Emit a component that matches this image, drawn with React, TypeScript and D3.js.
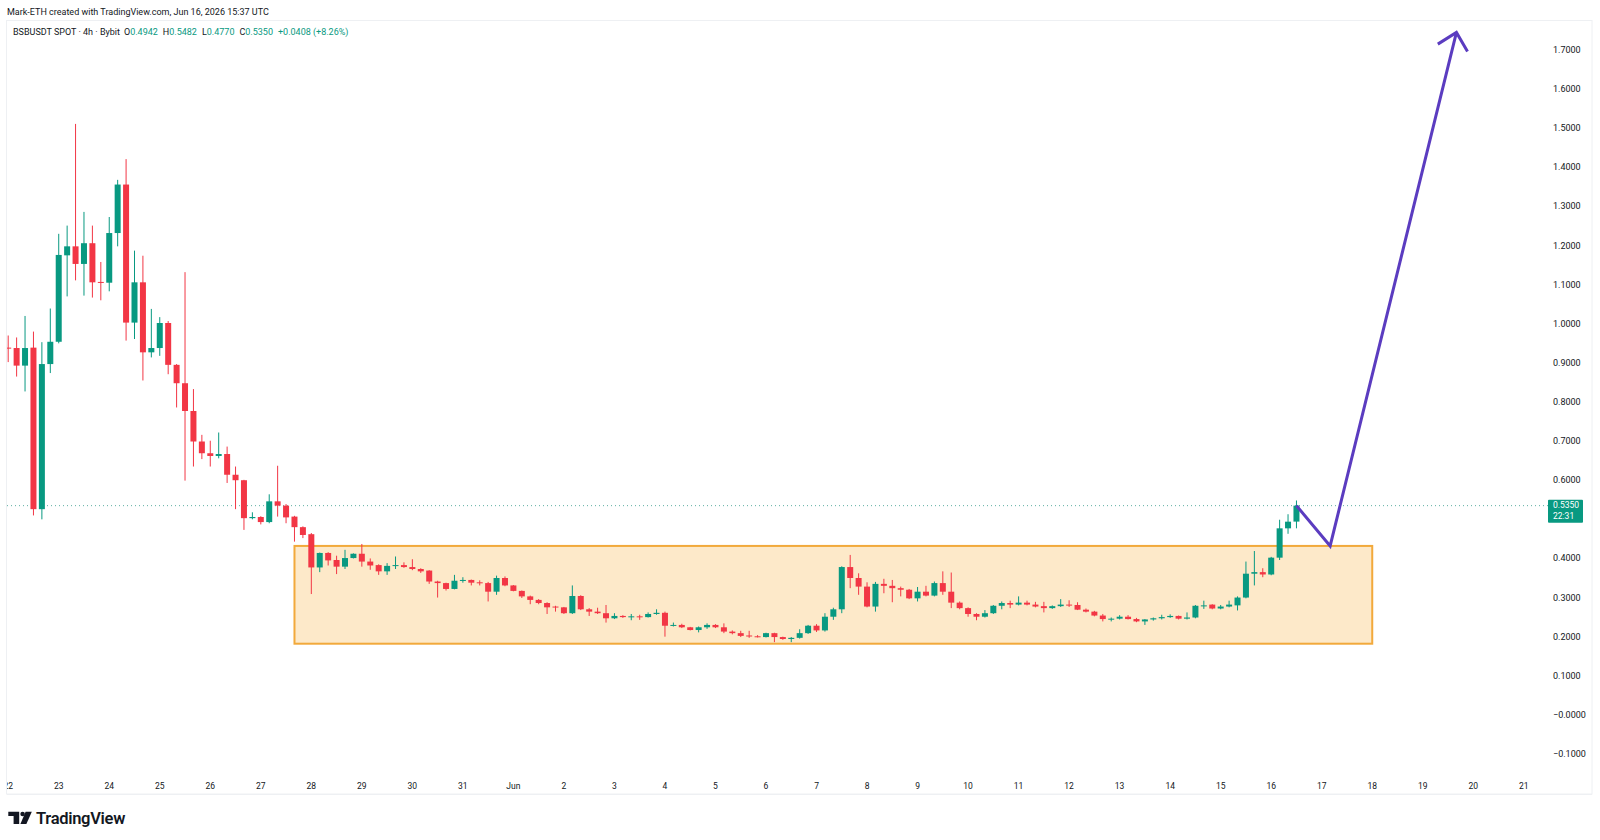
import React from "react";
import * as d3 from "d3";

// ---- data (4h candles, BSBUSDT, Bybit) ----
const firstBarTime = Date.UTC(2026, 4, 22, 0, 0); // May 22 00:00 UTC
const barHours = 4;

const opens = [
  0.939, 0.938, 0.893, 0.939, 0.526, 0.897, 0.954, 1.175, 1.198, 1.153,
  1.206, 1.107, 1.105, 1.232, 1.356, 1.003, 1.106, 0.927, 0.938, 1.002,
  0.895, 0.848, 0.777, 0.699, 0.669, 0.662, 0.667, 0.614, 0.600, 0.503,
  0.506, 0.493, 0.546, 0.535, 0.507, 0.480, 0.462, 0.377, 0.414, 0.396,
  0.379, 0.401, 0.412, 0.392, 0.383, 0.367, 0.381, 0.383, 0.378, 0.373,
  0.369, 0.341, 0.337, 0.322, 0.343, 0.345, 0.339, 0.337, 0.315, 0.350,
  0.331, 0.317, 0.303, 0.294, 0.286, 0.277, 0.275, 0.260, 0.304, 0.270,
  0.264, 0.260, 0.247, 0.253, 0.250, 0.252, 0.250, 0.258, 0.261, 0.228,
  0.230, 0.224, 0.217, 0.224, 0.230, 0.224, 0.213, 0.209, 0.203, 0.201,
  0.199, 0.209, 0.199, 0.194, 0.197, 0.209, 0.228, 0.216, 0.251, 0.270,
  0.378, 0.350, 0.328, 0.277, 0.335, 0.330, 0.324, 0.320, 0.298, 0.315,
  0.305, 0.337, 0.315, 0.287, 0.273, 0.258, 0.251, 0.260, 0.279, 0.286,
  0.282, 0.287, 0.282, 0.278, 0.273, 0.278, 0.282, 0.281, 0.269, 0.264,
  0.254, 0.245, 0.246, 0.251, 0.245, 0.239, 0.244, 0.247, 0.250, 0.253,
  0.246, 0.249, 0.279, 0.282, 0.272, 0.277, 0.280, 0.300, 0.361, 0.365,
  0.359, 0.402, 0.477, 0.4942,
];
const highs = [
  0.970, 0.965, 1.020, 0.980, 0.953, 1.039, 1.230, 1.251, 1.511, 1.286,
  1.251, 1.158, 1.273, 1.368, 1.421, 1.187, 1.174, 1.038, 1.017, 1.007,
  0.897, 1.132, 0.833, 0.716, 0.701, 0.722, 0.686, 0.635, 0.601, 0.518,
  0.508, 0.564, 0.637, 0.539, 0.509, 0.482, 0.465, 0.415, 0.416, 0.407,
  0.422, 0.413, 0.437, 0.400, 0.385, 0.388, 0.405, 0.390, 0.398, 0.375,
  0.370, 0.343, 0.338, 0.358, 0.352, 0.346, 0.344, 0.340, 0.356, 0.354,
  0.332, 0.318, 0.305, 0.296, 0.288, 0.279, 0.276, 0.331, 0.306, 0.273,
  0.274, 0.281, 0.260, 0.255, 0.258, 0.256, 0.262, 0.270, 0.264, 0.236,
  0.233, 0.225, 0.226, 0.234, 0.232, 0.234, 0.216, 0.215, 0.215, 0.204,
  0.210, 0.210, 0.200, 0.199, 0.219, 0.230, 0.232, 0.260, 0.274, 0.380,
  0.409, 0.362, 0.339, 0.340, 0.348, 0.345, 0.328, 0.322, 0.327, 0.330,
  0.341, 0.367, 0.364, 0.290, 0.275, 0.260, 0.268, 0.281, 0.290, 0.292,
  0.303, 0.292, 0.289, 0.289, 0.280, 0.296, 0.293, 0.288, 0.272, 0.266,
  0.258, 0.249, 0.255, 0.255, 0.248, 0.245, 0.249, 0.256, 0.257, 0.254,
  0.262, 0.281, 0.292, 0.283, 0.281, 0.292, 0.303, 0.392, 0.419, 0.375,
  0.404, 0.499, 0.513, 0.5482,
];
const lows = [
  0.902, 0.865, 0.827, 0.510, 0.500, 0.874, 0.950, 1.070, 1.111, 1.072,
  1.067, 1.060, 1.083, 1.198, 0.957, 0.961, 0.855, 0.914, 0.918, 0.871,
  0.786, 0.599, 0.635, 0.654, 0.635, 0.656, 0.593, 0.526, 0.473, 0.500,
  0.487, 0.490, 0.507, 0.490, 0.443, 0.452, 0.309, 0.365, 0.382, 0.360,
  0.373, 0.400, 0.379, 0.371, 0.358, 0.358, 0.373, 0.376, 0.370, 0.363,
  0.335, 0.300, 0.318, 0.321, 0.338, 0.331, 0.331, 0.290, 0.307, 0.329,
  0.316, 0.299, 0.283, 0.283, 0.258, 0.264, 0.258, 0.258, 0.268, 0.253,
  0.258, 0.236, 0.245, 0.248, 0.242, 0.243, 0.249, 0.256, 0.200, 0.226,
  0.222, 0.216, 0.211, 0.220, 0.222, 0.209, 0.206, 0.199, 0.197, 0.198,
  0.198, 0.186, 0.192, 0.186, 0.195, 0.207, 0.212, 0.213, 0.243, 0.260,
  0.324, 0.307, 0.275, 0.264, 0.311, 0.288, 0.303, 0.296, 0.290, 0.303,
  0.303, 0.307, 0.273, 0.270, 0.251, 0.242, 0.249, 0.258, 0.270, 0.273,
  0.280, 0.280, 0.275, 0.262, 0.271, 0.276, 0.276, 0.268, 0.262, 0.252,
  0.239, 0.239, 0.244, 0.244, 0.237, 0.230, 0.241, 0.244, 0.248, 0.244,
  0.244, 0.247, 0.271, 0.270, 0.270, 0.275, 0.267, 0.298, 0.331, 0.352,
  0.357, 0.396, 0.463, 0.4770,
];
const closes = [
  0.937, 0.893, 0.938, 0.526, 0.897, 0.954, 1.176, 1.198, 1.153, 1.206,
  1.106, 1.105, 1.232, 1.356, 1.003, 1.106, 0.927, 0.938, 1.002, 0.895,
  0.848, 0.777, 0.699, 0.669, 0.662, 0.667, 0.614, 0.600, 0.503, 0.506,
  0.493, 0.546, 0.535, 0.505, 0.480, 0.460, 0.377, 0.414, 0.395, 0.379,
  0.401, 0.412, 0.392, 0.382, 0.367, 0.381, 0.383, 0.378, 0.373, 0.367,
  0.341, 0.337, 0.322, 0.343, 0.345, 0.338, 0.337, 0.315, 0.350, 0.331,
  0.317, 0.303, 0.294, 0.286, 0.275, 0.275, 0.260, 0.304, 0.270, 0.264,
  0.260, 0.247, 0.253, 0.250, 0.252, 0.250, 0.258, 0.261, 0.228, 0.230,
  0.224, 0.217, 0.224, 0.230, 0.224, 0.213, 0.209, 0.202, 0.201, 0.200,
  0.209, 0.199, 0.194, 0.197, 0.209, 0.228, 0.216, 0.251, 0.270, 0.378,
  0.350, 0.328, 0.277, 0.335, 0.330, 0.324, 0.320, 0.298, 0.315, 0.305,
  0.337, 0.315, 0.287, 0.273, 0.258, 0.251, 0.260, 0.279, 0.286, 0.282,
  0.287, 0.282, 0.277, 0.273, 0.278, 0.282, 0.280, 0.269, 0.264, 0.254,
  0.245, 0.246, 0.251, 0.245, 0.239, 0.244, 0.247, 0.250, 0.253, 0.246,
  0.249, 0.279, 0.280, 0.272, 0.277, 0.282, 0.300, 0.361, 0.365, 0.359,
  0.402, 0.477, 0.494, 0.5350,
];

const priceTicks = d3.range(-1, 18).map((k) => k / 10);
const dayLabels = [
  "22", "23", "24", "25", "26", "27", "28", "29", "30", "31", "Jun",
  "2", "3", "4", "5", "6", "7", "8", "9", "10", "11", "12", "13", "14",
  "15", "16", "17", "18", "19", "20", "21",
];

// consolidation zone (bar index start, end date, prices)
const zoneStartBar = 34;
const zoneEnd = Date.UTC(2026, 5, 18, 0, 0);
const zoneTop = 0.432;
const zoneBottom = 0.182;

// projected path (bar indexes and prices)
const projBars = [153, 157, 172];
const projPrices = [0.535, 0.432, 1.745];

const countdown = "22:31";

const UP = "#089981";
const DOWN = "#F23645";
const TXT = "#131722";
const FONT = "Roboto, 'Liberation Sans', sans-serif";

const barDate = (i: number) => new Date(firstBarTime + i * barHours * 3600e3);

export default function App() {
  const x = d3
    .scaleUtc()
    .domain([new Date(Date.UTC(2026, 4, 22)), new Date(Date.UTC(2026, 5, 21))])
    .range([8.2, 1523.8]);
  const y = d3.scaleLinear().domain([-0.1, 1.7]).range([754, 50]);

  const dayTicks = d3.utcDay.range(
    new Date(Date.UTC(2026, 4, 22)),
    new Date(Date.UTC(2026, 5, 22))
  );

  const bodyW = 6;
  const last = closes.length - 1;
  const lastClose = closes[last];
  const chg = closes[last] - opens[last];
  const pct = (chg / opens[last]) * 100;
  const fmt4 = d3.format(".4f");
  const fmtTick = (v: number) => {
    const s = fmt4(Math.abs(v));
    return v <= 1e-9 ? "\u2212" + s : s;
  };

  const projPts: [number, number][] = projBars.map((b, k) => [
    x(barDate(b)),
    y(projPrices[k]),
  ]);
  const tip = projPts[projPts.length - 1];
  const prev = projPts[projPts.length - 2];
  const ang = Math.atan2(prev[1] - tip[1], prev[0] - tip[0]);
  const barbLen = 22;
  const barbAng = (44 * Math.PI) / 180;
  const barb1: [number, number] = [
    tip[0] + barbLen * Math.cos(ang + barbAng),
    tip[1] + barbLen * Math.sin(ang + barbAng),
  ];
  const barb2: [number, number] = [
    tip[0] + barbLen * Math.cos(ang - barbAng),
    tip[1] + barbLen * Math.sin(ang - barbAng),
  ];
  const line = d3.line();

  const pLast = y(lastClose);
  // hide axis ticks that would sit under the last-price label
  const visibleTicks = priceTicks.filter((v) => {
    const yy = y(v);
    return yy < pLast - 13 || yy > pLast + 22;
  });

  return (
    <div style={{ position: "fixed", left: 0, top: 0, width: 1600, height: 840, background: "#fff" }}>
      <svg width={1600} height={840} style={{ display: "block", fontFamily: FONT }}>
        <defs>
          <clipPath id="pane">
            <rect x={7} y={20} width={1541} height={754} />
          </clipPath>
          <clipPath id="taxis">
            <rect x={7} y={774} width={1541} height={20} />
          </clipPath>
        </defs>
        <rect x={0} y={0} width={1600} height={840} fill="#fff" />
        {/* header */}
        <text x={7} y={15} fontSize={9} fill={TXT}>
          Mark-ETH created with TradingView.com, Jun 16, 2026 15:37 UTC
        </text>
        {/* pane border */}
        <rect x={6.5} y={20.5} width={1585.5} height={773.5} fill="none" stroke="#EEF0F3" strokeWidth={1} />

        <g clipPath="url(#pane)">
          {/* zone */}
          <rect
            x={x(barDate(zoneStartBar))}
            y={y(zoneTop)}
            width={x(new Date(zoneEnd)) - x(barDate(zoneStartBar))}
            height={y(zoneBottom) - y(zoneTop)}
            fill="#FDE9C9"
            stroke="#F2A93B"
            strokeWidth={2}
          />
          {/* last price line */}
          <line x1={7} x2={1548} y1={pLast} y2={pLast} stroke="#5FAFA2" strokeWidth={1} strokeDasharray="1 3" />
          {/* candles */}
          {opens.map((o, i) => {
            const c = closes[i];
            const cx = x(barDate(i));
            const col = c >= o ? UP : DOWN;
            const top = y(Math.max(o, c));
            const bot = y(Math.min(o, c));
            return (
              <g key={i}>
                <line x1={cx} x2={cx} y1={y(highs[i])} y2={y(lows[i])} stroke={col} strokeWidth={1} />
                <rect x={cx - bodyW / 2} y={top} width={bodyW} height={Math.max(1, bot - top)} fill={col} />
              </g>
            );
          })}
          {/* projection */}
          <path d={line(projPts) || ""} fill="none" stroke="#5B3CC0" strokeWidth={3} strokeLinejoin="miter" />
          <path d={line([barb1, tip, barb2]) || ""} fill="none" stroke="#5B3CC0" strokeWidth={3} />
        </g>

        {/* legend */}
        <text x={13} y={34.5} fontSize={9} fill={TXT}>
          <tspan>BSBUSDT SPOT · 4h · Bybit</tspan>
          <tspan dx={4}>O</tspan>
          <tspan fill={UP}>{fmt4(opens[last])}</tspan>
          <tspan dx={5}>H</tspan>
          <tspan fill={UP}>{fmt4(highs[last])}</tspan>
          <tspan dx={5}>L</tspan>
          <tspan fill={UP}>{fmt4(lows[last])}</tspan>
          <tspan dx={5}>C</tspan>
          <tspan fill={UP}>{fmt4(closes[last])}</tspan>
          <tspan dx={5} fill={UP}>
            {(chg >= 0 ? "+" : "") + fmt4(chg) + " (" + (pct >= 0 ? "+" : "") + pct.toFixed(2) + "%)"}
          </tspan>
        </text>

        {/* price axis */}
        <g fontSize={9} fill={TXT}>
          {visibleTicks.map((v) => (
            <text key={v} x={1553} y={y(v)} dominantBaseline="central">
              {fmtTick(v)}
            </text>
          ))}
        </g>
        <rect x={1548} y={pLast - 6} width={35} height={23} fill={UP} rx={1} />
        <text x={1553} y={pLast + 2.5} fontSize={8.5} fill="#fff">
          <tspan x={1553}>{fmt4(lastClose)}</tspan>
          <tspan x={1553} dy={11}>{countdown}</tspan>
        </text>

        {/* time axis */}
        <g clipPath="url(#taxis)" fontSize={8.5} fill={TXT}>
          {dayTicks.map((d, k) => (
            <text key={k} x={x(d)} y={786} textAnchor="middle" dominantBaseline="central">
              {dayLabels[k]}
            </text>
          ))}
        </g>
        <line x1={7} x2={1592} y1={794.5} y2={794.5} stroke="#EEF0F3" />

        {/* TradingView logo */}
        <g fill={TXT}>
          <path d="M8.3 811.7 H19.2 V824 H13.6 V816 H8.3 Z" />
          <circle cx={22.6} cy={814} r={2.3} />
          <path d="M25.6 811.7 H31.8 L26.4 824 H20.4 Z" />
          <text x={36} y={823.8} fontSize={16.5} fontWeight={600} letterSpacing={-0.3}>
            TradingView
          </text>
        </g>
      </svg>
    </div>
  );
}
